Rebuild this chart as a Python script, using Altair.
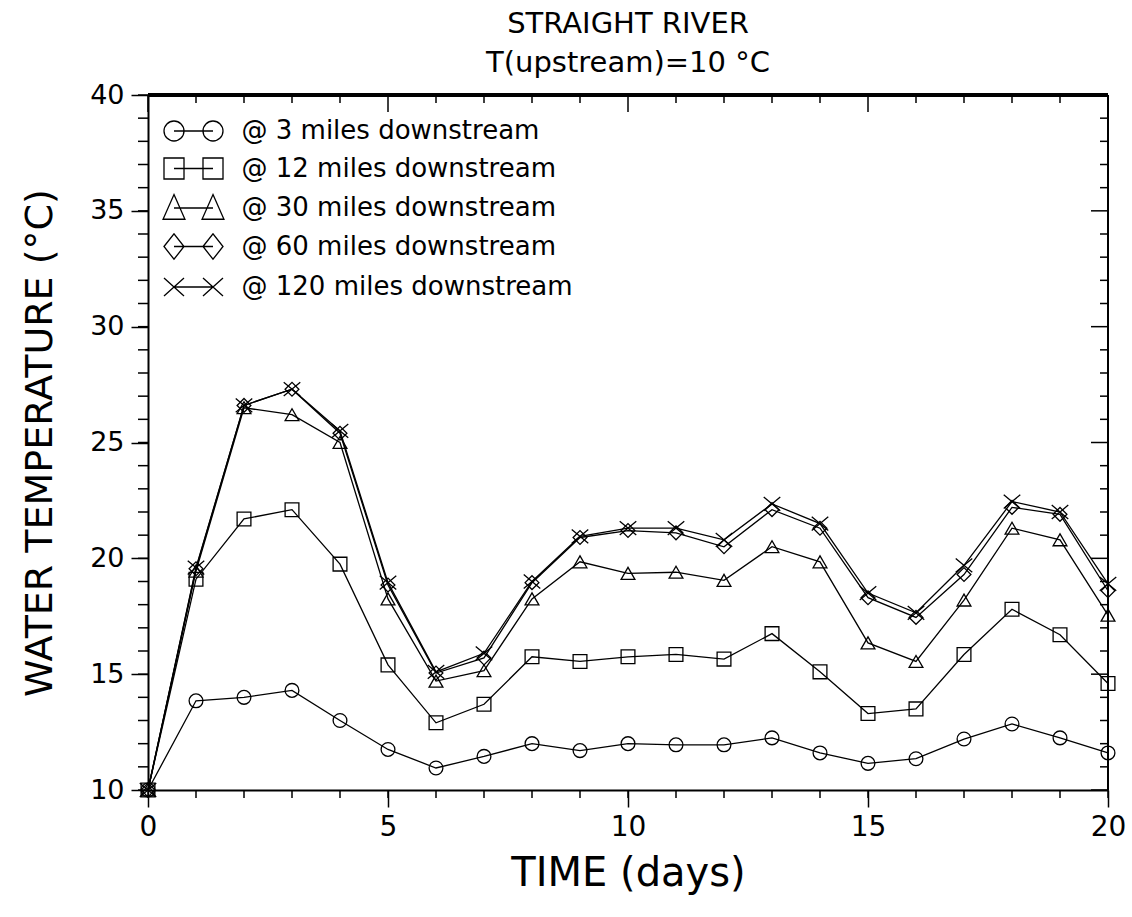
import altair as alt
import pandas as pd

# ---------------- data ----------------
days = list(range(21))
t3 = [10.0, 13.85, 14.0, 14.3, 13.0, 11.75, 10.95, 11.45, 12.0, 11.7, 12.0,
      11.95, 11.95, 12.25, 11.6, 11.15, 11.35, 12.2, 12.85, 12.25, 11.6]
t12 = [10.0, 19.1, 21.7, 22.1, 19.75, 15.4, 12.9, 13.7, 15.75, 15.55, 15.75,
       15.85, 15.65, 16.75, 15.1, 13.3, 13.5, 15.85, 17.8, 16.7, 14.6]
t30 = [10.0, 19.45, 26.5, 26.2, 25.0, 18.25, 14.7, 15.15, 18.25, 19.85, 19.35,
       19.4, 19.05, 20.5, 19.85, 16.35, 15.55, 18.2, 21.3, 20.8, 17.55]
t60 = [10.0, 19.55, 26.6, 27.3, 25.4, 18.85, 15.05, 15.7, 18.95, 20.9, 21.2,
       21.1, 20.5, 22.1, 21.3, 18.3, 17.45, 19.3, 22.2, 21.9, 18.6]
t120 = [10.0, 19.6, 26.6, 27.3, 25.5, 18.95, 15.1, 15.9, 19.0, 20.95, 21.3,
        21.3, 20.8, 22.35, 21.5, 18.5, 17.65, 19.7, 22.45, 22.0, 18.9]

series_labels = ["@ 3 miles downstream", "@ 12 miles downstream",
                 "@ 30 miles downstream", "@ 60 miles downstream",
                 "@ 120 miles downstream"]
x_ticks = [0, 5, 10, 15, 20]
y_ticks = [10, 15, 20, 25, 30, 35, 40]
x_minor = list(range(0, 21))
y_minor = list(range(10, 41))

rows = []
for lab, vals in zip(series_labels, [t3, t12, t30, t60, t120]):
    for d, v in zip(days, vals):
        rows.append({"day": d, "temp": v, "series": lab})
df = pd.DataFrame(rows)

# ---------------- styling ----------------
W, H = 960, 695
FONT = "DejaVu Sans"

point_shapes = ["circle", "square", "triangle-up", "diamond",
                "M -1.2 -1 L 1.2 1 M -1.2 1 L 1.2 -1"]
legend_paths = [
    "M -1.967 0 A 0.667 0.667 0 1 0 -0.633 0 A 0.667 0.667 0 1 0 -1.967 0 "
    "M -1.3 0 L 1.3 0 "
    "M 0.633 0 A 0.667 0.667 0 1 0 1.967 0 A 0.667 0.667 0 1 0 0.633 0",
    "M -1.967 -0.7 L -0.633 -0.7 L -0.633 0.7 L -1.967 0.7 Z "
    "M -1.3 0 L 1.3 0 "
    "M 0.633 -0.7 L 1.967 -0.7 L 1.967 0.7 L 0.633 0.7 Z",
    "M -1.3 -0.9 L -0.57 0.75 L -2.03 0.75 Z "
    "M -1.3 0 L 1.3 0 "
    "M 1.3 -0.9 L 2.03 0.75 L 0.57 0.75 Z",
    "M -1.967 0 L -1.3 -0.85 L -0.633 0 L -1.3 0.85 Z "
    "M -1.3 0 L 1.3 0 "
    "M 0.633 0 L 1.3 -0.85 L 1.967 0 L 1.3 0.85 Z",
    "M -1.967 -0.6 L -0.633 0.6 M -1.967 0.6 L -0.633 -0.6 "
    "M -1.3 0 L 1.3 0 "
    "M 0.633 -0.6 L 1.967 0.6 M 0.633 0.6 L 1.967 -0.6",
]

xscale = alt.Scale(domain=[0, 20], nice=False, zero=False)
yscale = alt.Scale(domain=[10, 40], nice=False, zero=False)

x_axis = alt.Axis(values=x_ticks, title="TIME (days)", format="d",
                  tickSize=17, tickWidth=1.5, labelFontSize=28, labelFlush=False,
                  labelPadding=6, titleFontSize=40, titlePadding=12,
                  domainWidth=2, grid=False)
y_axis = alt.Axis(values=y_ticks, title="WATER TEMPERATURE (°C)",
                  format="d", tickSize=17, tickWidth=1.5, labelFlush=False,
                  labelFontSize=27, labelPadding=7,
                  titleFontSize=38, titlePadding=30,
                  domainWidth=2, grid=False)
x_enc = alt.X("day:Q", scale=xscale, axis=x_axis)
y_enc = alt.Y("temp:Q", scale=yscale, axis=y_axis)

lines = alt.Chart(df).mark_line(color="black", strokeWidth=1.3).encode(
    x=x_enc, y=y_enc, detail="series:N")

points = alt.Chart(df).mark_point(filled=False, color="black", strokeWidth=1.3,
                                  size=190, opacity=1).encode(
    x=x_enc, y=y_enc,
    shape=alt.Shape("series:N", scale=alt.Scale(domain=series_labels, range=point_shapes),
                    legend=None))

legend_layer = alt.Chart(df).mark_point(filled=False, color="black", strokeWidth=1.3,
                                        opacity=0).encode(
    x=x_enc, y=y_enc,
    shape=alt.Shape("series:N",
                    scale=alt.Scale(domain=series_labels, range=legend_paths),
                    legend=alt.Legend(title=None, orient="none", legendX=29.5, legendY=20,
                                      padding=0, symbolSize=900, symbolStrokeWidth=1.3,
                                      symbolStrokeColor="black", symbolFillColor="transparent",
                                      symbolOpacity=1, labelFont=FONT, labelFontSize=26,
                                      labelColor="black", labelOffset=32, labelLimit=1000,
                                      rowPadding=8.5)))

# tick tables use the same field names so the axes merge cleanly
ydf = pd.DataFrame({"temp": y_minor})
ydf["major"] = [v in y_ticks for v in y_minor]
xdf = pd.DataFrame({"day": x_minor})
xdf["major"] = [v in x_ticks for v in x_minor]

left_minor = alt.Chart(ydf).mark_rule(color="black", strokeWidth=1.5).encode(
    y=y_enc, x=alt.value(0), x2=alt.value(-10))
right_minor = alt.Chart(ydf).transform_filter("!datum.major").mark_rule(
    color="black", strokeWidth=1.5).encode(y=y_enc, x=alt.value(W), x2=alt.value(W - 8))
right_major = alt.Chart(ydf).transform_filter("datum.major").mark_rule(
    color="black", strokeWidth=1.5).encode(y=y_enc, x=alt.value(W), x2=alt.value(W - 17))
top_minor = alt.Chart(xdf).transform_filter("!datum.major").mark_rule(
    color="black", strokeWidth=1.5).encode(x=x_enc, y=alt.value(0), y2=alt.value(8))
top_major = alt.Chart(xdf).transform_filter("datum.major").mark_rule(
    color="black", strokeWidth=1.5).encode(x=x_enc, y=alt.value(0), y2=alt.value(17))
bottom_minor = alt.Chart(xdf).mark_rule(color="black", strokeWidth=1.5).encode(
    x=x_enc, y=alt.value(H), y2=alt.value(H + 8))

frame_top = alt.Chart(xdf).mark_rule(color="black", strokeWidth=2.5).encode(
    x=alt.value(0), x2=alt.value(W), y=alt.value(0))
frame_right = alt.Chart(xdf).mark_rule(color="black", strokeWidth=2).encode(
    x=alt.value(W), y=alt.value(0), y2=alt.value(H))

chart = alt.layer(
    lines, points, legend_layer,
    left_minor, right_minor, right_major, top_minor, top_major, bottom_minor,
    frame_top, frame_right
).resolve_scale(shape="independent").properties(
    width=W, height=H,
    background="white",
    autosize=alt.AutoSizeParams(type="none"),
    padding={"left": 148, "top": 95, "right": 24, "bottom": 127},
    title=alt.Title(["STRAIGHT RIVER", "T(upstream)=10 °C"], font=FONT, fontSize=29,
                    fontWeight="normal", lineHeight=39, anchor="middle", offset=3,
                    color="black"),
).configure_view(stroke=None).configure_axis(
    labelFont=FONT, titleFont=FONT, labelColor="black", titleColor="black",
    titleFontWeight="normal", tickColor="black", domainColor="black"
)

chart.save("out.html", embed_options={"renderer": "svg", "actions": False})
